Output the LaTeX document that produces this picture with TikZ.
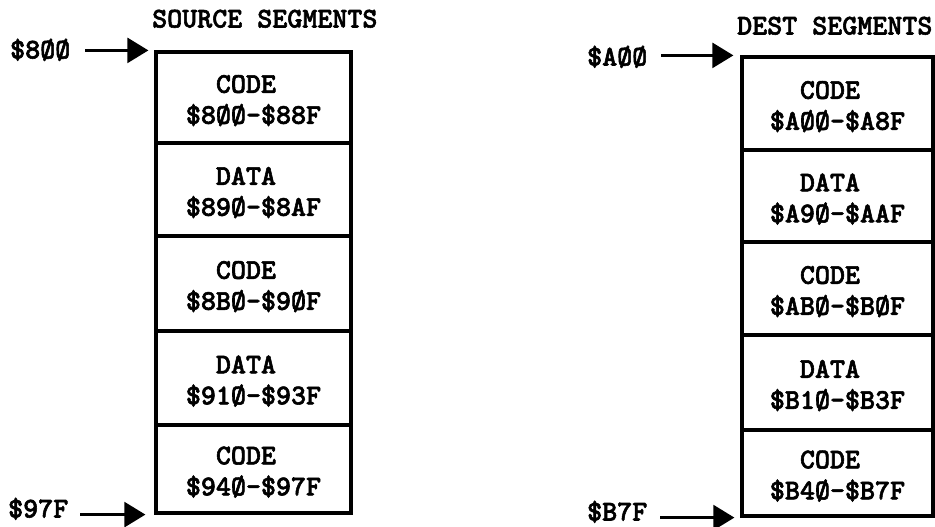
\documentclass[tikz,border=0pt]{standalone}
\usepackage{fontspec}
\newfontfamily\tw{lmmonolt10-bold.otf}[FakeBold=2]
\usetikzlibrary{arrows.meta}
% two blank columns before the segment kind, as typed, plus a strut for the first line
\newcommand\kindpad{\hphantom{00}\rule{0pt}{24pt}}

\begin{document}
\begin{tikzpicture}[x=1pt,y=-1pt,
  every node/.style={font=\tw\fontsize{28.6}{31}\selectfont, inner sep=0pt},
  seg/.style={draw, line width=3.2pt, align=left},
  lsegs/.style={seg, minimum width=195pt},
  rsegs/.style={seg, minimum width=191pt},
  ptr/.style={-{Triangle[length=21pt,width=25pt]}, line width=2.6pt},
]
\useasboundingbox (0,0) rectangle (935,527);

% titles
\node[anchor=base west] (srctitle) at (152,27.5) {SOURCE SEGMENTS};
\node[anchor=base west] (dsttitle) at (737,34.5) {DEST SEGMENTS};

% source segments
\node[lsegs, minimum height=91pt] (s1) at (253.5,97.5) {\kindpad CODE\\\$8ØØ-\$88F};
\node[lsegs, minimum height=93pt] (s2) at (253.5,189.5) {\kindpad DATA\\\$89Ø-\$8AF};
\node[lsegs, minimum height=95pt] (s3) at (253.5,283.5) {\kindpad CODE\\\$8BØ-\$9ØF};
\node[lsegs, minimum height=94pt] (s4) at (253.5,378) {\kindpad DATA\\\$91Ø-\$93F};
\node[lsegs, minimum height=88pt] (s5) at (253.5,469) {\kindpad CODE\\\$94Ø-\$97F};

% destination segments
\node[rsegs, minimum height=93pt] (d1) at (837.5,103.5) {\kindpad CODE\\\$AØØ-\$A8F};
\node[rsegs, minimum height=92pt] (d2) at (837.5,196) {\kindpad DATA\\\$A9Ø-\$AAF};
\node[rsegs, minimum height=93pt] (d3) at (837.5,288.5) {\kindpad CODE\\\$ABØ-\$BØF};
\node[rsegs, minimum height=95pt] (d4) at (837.5,382.5) {\kindpad DATA\\\$B1Ø-\$B3F};
\node[rsegs, minimum height=86pt] (d5) at (837.5,473) {\kindpad CODE\\\$B4Ø-\$B7F};

% address labels
\node[anchor=base west] (l800) at (10,58.5) {\$8ØØ};
\node[anchor=base west] (l97f) at (8,517.5) {\$97F};
\node[anchor=base west] (la00) at (587,65.5) {\$AØØ};
\node[anchor=base west] (lb7f) at (587,520.5) {\$B7F};

% pointers to the segment bounds
\draw[ptr, shorten <=15pt, shorten >=6pt] (l800.east |- s1.north west) -- (s1.north west);
\draw[ptr, shorten <=12pt, shorten >=9pt] (l97f.east |- s5.south west) -- (s5.south west);
\draw[ptr, shorten <=14pt, shorten >=7pt] (la00.east |- d1.north west) -- (d1.north west);
\draw[ptr, shorten <=13pt, shorten >=6pt] (lb7f.east |- d5.south west) -- (d5.south west);
\end{tikzpicture}
\end{document}
